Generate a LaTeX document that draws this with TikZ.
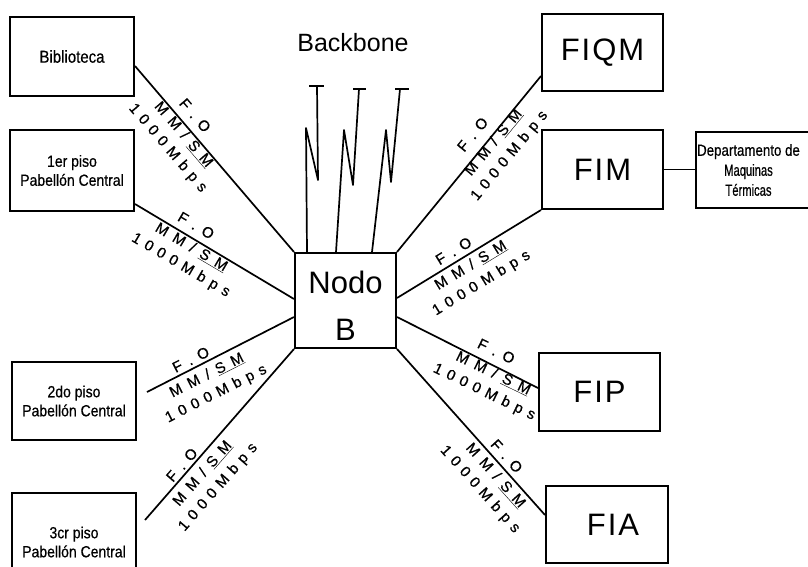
\documentclass[tikz,border=0pt]{standalone}
\usepackage{fontspec}
\usepackage{graphicx}
\setmainfont{Liberation Sans}
\newfontfamily\heavyfont[FakeBold=0.6]{Liberation Sans}
\usetikzlibrary{calc}
\newcommand\folbl{\hbox{F\kern7pt.\kern7pt O\kern14pt}\\\hbox{M\kern7.3pt M\kern7.3pt /\kern7.3pt \underline{S\kern7.3pt M}}\\\hbox{1\kern5.9pt 0\kern5.9pt 0\kern5.9pt 0\kern5.9pt M\kern5.9pt b\kern5.9pt p\kern5.9pt s}}
\newcommand\tline[2][1]{\scalebox{#1}[1.15]{#2}}
\begin{document}
\begin{tikzpicture}[x=1pt,y=-1pt,
  box/.style={draw, line width=2pt, rectangle, inner sep=0pt, align=center},
  conn/.style={line width=1.7pt, line join=round},
  lbl/.style={font=\heavyfont\fontsize{15}{20.5}\selectfont, align=center, inner sep=0pt},
  big/.style={font=\fontsize{31}{37}\selectfont},
  small/.style={font=\heavyfont\fontsize{14}{19}\selectfont}]
\useasboundingbox (0,0) rectangle (808,566);
% boxes
\node[box, minimum width=124pt, minimum height=79pt, font=\heavyfont\fontsize{15}{18}\selectfont] (bib) at (72,56.5) {\tline{Biblioteca}};
\node[box, minimum width=124pt, minimum height=81pt, small] (p1) at (72,170.5) {\tline{1er piso}\\\tline{Pabellón Central}};
\node[box, minimum width=124pt, minimum height=78pt, small] (p2) at (74,401) {\tline{2do piso}\\\tline{Pabellón Central}};
\node[box, minimum width=124pt, minimum height=98pt, small] (p3) at (74,542) {\tline{3cr piso}\\\tline{Pabellón Central}};
\node[box, minimum width=121pt, minimum height=77pt, big] (fiqm) at (602.5,52.5) {F\kern2pt I\kern2pt Q\kern2pt M};
\node[box, minimum width=121pt, minimum height=79pt, big] (fim) at (602.5,169.5) {F\kern2pt I\kern2pt M};
\node[box, minimum width=116pt, minimum height=76pt, font=\heavyfont\fontsize{14}{20}\selectfont] (dept) at (754,170) {\hbox{\kern-11pt\tline[0.95]{Departamento de}}\\\hbox{\kern-11pt\tline[0.8]{Maquinas}}\\\hbox{\kern-11pt\tline[0.8]{Térmicas}}};
\node[box, minimum width=121pt, minimum height=78pt, big] (fip) at (599.5,392) {F\kern2pt I\kern2pt P};
\node[box, minimum width=122pt, minimum height=77pt, big] (fia) at (607,524.5) {\hbox{\kern12pt F\kern2pt I\kern2pt A}};
% central node
\node[box, minimum width=101pt, minimum height=95pt] (nb) at (345.5,300.5) {};
\node[font=\fontsize{31}{47}\selectfont, align=center, inner sep=0pt] (nbt) at (345.5,306) {Nodo\\B};
\node[font=\fontsize{25}{30}\selectfont, inner sep=0pt] (bb) at (353,43) {Backbone};
% connectors
\coordinate (e2) at (147,392);
\coordinate (e3) at (145,520);
\draw[conn] ([yshift=-9.5pt]bib.east) -- (nb.north west);
\draw[conn] ([yshift=-33.5pt]p1.east) -- ([yshift=1.5pt]nb.west);
\draw[conn] (e2) -- ([yshift=-16.5pt]nb.west);
\draw[conn] (e3) -- (nb.south west);
\draw[conn] (nb.north east) -- ([yshift=-23.5pt]fiqm.west);
\draw[conn] ([yshift=2.5pt]nb.east) -- (fim.south west);
\draw[conn] ([yshift=-16.5pt]nb.east) -- ([yshift=4pt]fip.west);
\draw[conn] (nb.south east) -- ([yshift=9.5pt]fia.west);
\draw[conn] (fim.east) -- (fim.east -| dept.west);
% antennas
\coordinate (a1) at (307,252);
\coordinate (a2) at (336,252);
\coordinate (a3) at (372,252);
\draw[conn] (a1) -- (306,128) -- (318,180) -- (317,86);
\draw[conn] (309,86) -- (324,86);
\draw[conn] (a2) -- (344,130) -- (353,185) -- (359,89);
\draw[conn] (353,89) -- (366,89);
\draw[conn] (a3) -- (386,130) -- (391,182) -- (400,89);
\draw[conn] (395,89) -- (409,89);
% labels
\node[lbl, rotate=-49.3] (l1) at (183,135) {\folbl};
\node[lbl, rotate=-30.5] (l2) at (191,248) {\folbl};
\node[lbl, rotate=26.9] (l3) at (207,376) {\folbl};
\node[lbl, rotate=48.9] (l4) at (203,474) {\folbl};
\node[lbl, rotate=50.5] (l5) at (494,143) {\folbl};
\node[lbl, rotate=31.4] (l6) at (471,266) {\folbl};
\node[lbl, rotate=-25.8] (l7) at (493,374) {\folbl};
\node[lbl, rotate=-48.1] (l8) at (495,476) {\folbl};
\end{tikzpicture}
\end{document}
